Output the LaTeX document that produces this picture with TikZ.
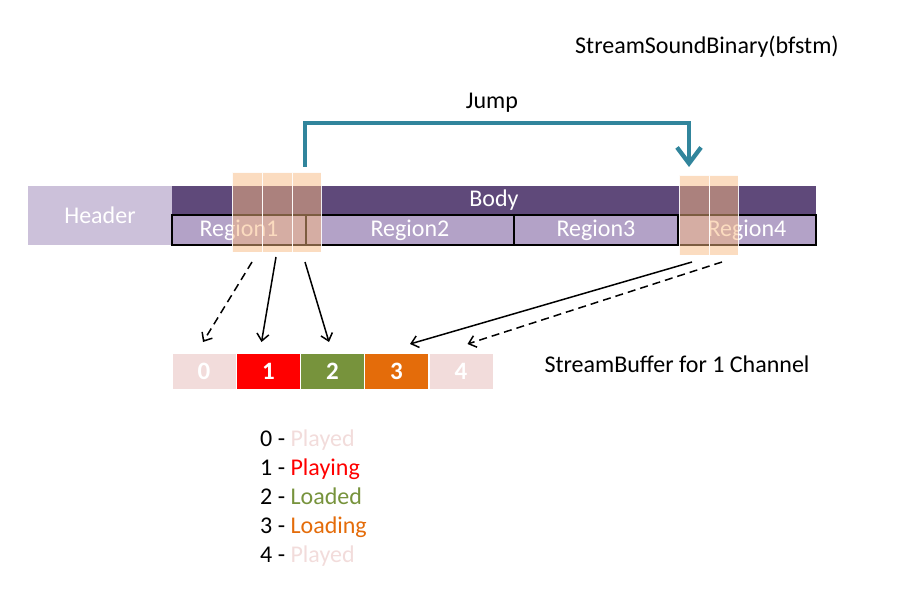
\documentclass[tikz,border=0pt]{standalone}
\usepackage{fontspec}
\setmainfont{Carlito}
\usetikzlibrary{arrows.meta}
\definecolor{hdr}{HTML}{CCC1DA}
\definecolor{bodyc}{HTML}{5F497A}
\definecolor{regc}{HTML}{B3A2C7}
\definecolor{ovl}{HTML}{F8B981}
\definecolor{teal}{HTML}{31859C}
\definecolor{pinkc}{HTML}{F2DCDB}
\definecolor{redc}{HTML}{FF0000}
\definecolor{greenc}{HTML}{77933C}
\definecolor{orangec}{HTML}{E46C0A}
\tikzset{
  box/.style={rectangle, inner sep=0pt, outer sep=0pt, anchor=north west, text=white},
  lbl/.style={inner sep=0pt, font=\fontsize{24}{29}\selectfont},
  ovbox/.style={box, fill=ovl, fill opacity=0.5, draw=white, draw opacity=0.9, line width=0.8pt, minimum height=80pt},
  cellbox/.style={box, draw=white, line width=0.8pt, minimum width=64pt, minimum height=36pt, font=\fontsize{25}{29}\selectfont\bfseries},
  arr/.style={line width=1.5pt, -{Straight Barb[length=7pt,width=12pt]}},
  darr/.style={arr, dash pattern=on 8pt off 5pt},
  jump/.style={line width=4.3pt, teal, -{Straight Barb[length=16pt,width=24pt]}}
}
\begin{document}
\begin{tikzpicture}[x=1pt,y=-1pt]
\useasboundingbox (0,0) rectangle (903,596);
% binary
\node[box, fill=hdr, minimum width=144pt, minimum height=59pt, lbl, text=white] (header) at (28,186) {Header};
\node[box, fill=bodyc, minimum width=644pt, minimum height=29pt, lbl, text=white] (body) at (172,186) {Body};
\node[box, fill=regc, draw=black, line width=1.2pt, minimum width=134pt, minimum height=30pt, lbl, text=white] (r1) at (172,215) {Region1};
\node[box, fill=regc, draw=black, line width=1.2pt, minimum width=208pt, minimum height=30pt, lbl, text=white] (r2) at (306,215) {Region2};
\node[box, fill=regc, draw=black, line width=1.2pt, minimum width=164pt, minimum height=30pt, lbl, text=white] (r3) at (514,215) {Region3};
\node[box, fill=regc, draw=black, line width=1.2pt, minimum width=138pt, minimum height=30pt, lbl, text=white] (r4) at (678,215) {Region4};
% overlays
\node[ovbox, minimum width=30pt] (o11) at (232,172) {};
\node[ovbox, minimum width=30pt] (o12) at (262,172) {};
\node[ovbox, minimum width=29pt] (o13) at (292,172) {};
\node[ovbox, minimum width=30pt] (o21) at (679,175) {};
\node[ovbox, minimum width=29pt] (o22) at (709,175) {};
% jump
\coordinate (jb) at (305,167);
\coordinate (jl) at (305,123);
\coordinate (jr) at (689,123);
\coordinate (je) at (689,167);
\draw[jump] (jb) -- (jl) -- (jr) -- (je);
\node[lbl] (jumplbl) at (492,103) {Jump};
\node[lbl] (title) at (707,47) {StreamSoundBinary(bfstm)};
% buffer
\node[cellbox, fill=pinkc] (c0) at (172,353) {0};
\node[cellbox, fill=redc] (c1) at (236.5,353) {1};
\node[cellbox, fill=greenc] (c2) at (300.5,353) {2};
\node[cellbox, fill=orangec] (c3) at (364.5,353) {3};
\node[cellbox, fill=pinkc] (c4) at (429,353) {4};
\node[lbl] (buflbl) at (677,364) {StreamBuffer for 1 Channel};
% arrows
\draw[darr] ([xshift=5pt,yshift=-10pt]o11.south) -- ([xshift=-1pt,yshift=11pt]c0.north);
\draw[arr] ([xshift=-1pt,yshift=-5pt]o12.south) -- ([xshift=-7pt,yshift=11pt]c1.north);
\draw[arr] ([xshift=-1.5pt,yshift=-10pt]o13.south) -- ([xshift=-3.5pt,yshift=11pt]c2.north);
\draw[arr] ([xshift=-2pt,yshift=-7pt]o21.south) -- ([xshift=13.5pt,yshift=9pt]c3.north);
\draw[darr] ([xshift=-1.5pt,yshift=-7pt]o22.south) -- ([xshift=6.5pt,yshift=9pt]c4.north);
% legend
\node[lbl, anchor=base west] (l0) at (260,446) {0 - \textcolor{pinkc}{Played}};
\node[lbl, anchor=base west] (l1) at (260,475) {1 - \textcolor{redc}{Playing}};
\node[lbl, anchor=base west] (l2) at (260,504) {2 - \textcolor{greenc}{Loaded}};
\node[lbl, anchor=base west] (l3) at (260,533) {3 - \textcolor{orangec}{Loading}};
\node[lbl, anchor=base west] (l4) at (260,562) {4 - \textcolor{pinkc}{Played}};
\end{tikzpicture}
\end{document}
